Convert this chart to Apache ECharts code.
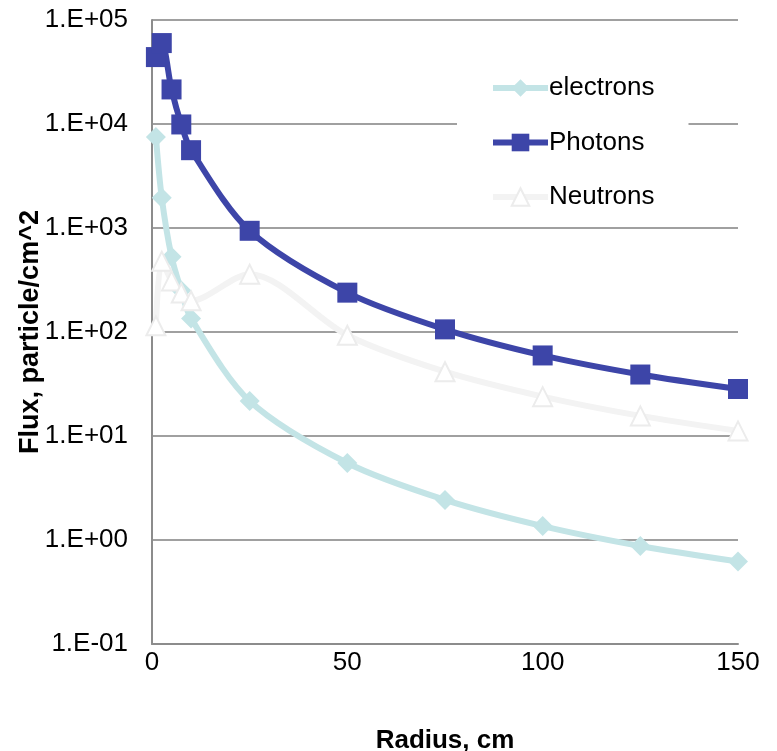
<!DOCTYPE html>
<html>
<head>
<meta charset="utf-8">
<script src="https://cdn.jsdelivr.net/npm/echarts@6/dist/echarts.min.js"></script>
<style>
html,body{margin:0;padding:0;background:#fff;}
#main{width:777px;height:751px;}
</style>
</head>
<body>
<div id="main"></div>
<script>
// 半径 (cm)
var radius=[1,2.5,5,7.5,10,25,50,75,100,125,150];
// 各粒子通量
var electrons=[7500,1950,530,250,135,21.7,5.5,2.43,1.36,0.875,0.62];
var photons=[44000,60000,21500,9900,5600,940,239,106,59.5,39,28.3];
var neutrons=[115,480,310,237,200,360,93,41.5,23.9,15.6,11.2];
var seriesNames=["electrons","Photons","Neutrons"];

function pairs(ys){
    return radius.map(function(x,i){return [x,ys[i]];});
}
// 1.E+05 这种格式
function expLabel(v){
    var e=Math.round(Math.log(v)/Math.LN10);
    var s=Math.abs(e)<10?"0"+Math.abs(e):""+Math.abs(e);
    return "1.E"+(e<0?"-":"+")+s;
}

var myChart=echarts.init(document.getElementById('main'));
var font="'Liberation Sans', Arial, sans-serif";
var option={
    animation:false,
    backgroundColor:"#fff",
    grid:{left:152,right:39,top:20,bottom:107,outerBoundsMode:"none",containLabel:false},
    legend:{
        orient:"vertical",
        left:457,
        top:67,
        padding:[8,34,8,33],
        backgroundColor:"#fff",
        itemWidth:55,
        itemHeight:22,
        itemGap:28.5,
        data:seriesNames,
        lineStyle:{width:6},
        textStyle:{fontFamily:font,fontSize:26,color:"#000",padding:[0,0,0,-4]}
    },
    xAxis:{
        type:"value",
        min:0,max:150,interval:50,
        name:"Radius, cm",
        nameLocation:"middle",
        nameGap:84,
        nameMoveOverlap:false,
        nameTextStyle:{fontFamily:font,fontSize:26,fontWeight:"bold",color:"#000"},
        axisLine:{lineStyle:{color:"#8c8c8c",width:2}},
        axisTick:{show:false},
        axisLabel:{fontFamily:font,fontSize:26,color:"#000",margin:6},
        splitLine:{show:false}
    },
    yAxis:{
        type:"log",
        logBase:10,
        min:0.1,max:100000,
        name:"Flux, particle/cm^2",
        nameLocation:"middle",
        nameGap:108,
        nameMoveOverlap:false,
        nameTextStyle:{fontFamily:font,fontSize:27,fontWeight:"bold",color:"#000"},
        axisLine:{show:true,lineStyle:{color:"#8c8c8c",width:2}},
        axisTick:{show:false},
        axisLabel:{fontFamily:font,fontSize:26,color:"#000",margin:24,formatter:expLabel},
        splitLine:{show:true,lineStyle:{color:"#a0a0a0",width:2}}
    },
    series:[{
        name:"electrons",
        type:"line",
        smooth:0.3,
        data:pairs(electrons),
        symbol:"diamond",
        symbolSize:20,
        lineStyle:{color:"#c3e4e6",width:6},
        itemStyle:{color:"#c3e4e6"}
    },{
        name:"Photons",
        type:"line",
        smooth:0.3,
        data:pairs(photons),
        symbol:"rect",
        symbolSize:20,
        lineStyle:{color:"#3d45a8",width:6},
        itemStyle:{color:"#3d45a8"}
    },{
        name:"Neutrons",
        type:"line",
        smooth:0.3,
        data:pairs(neutrons),
        symbol:"triangle",
        symbolSize:19,
        lineStyle:{color:"#f3f3f3",width:6},
        itemStyle:{color:"#ffffff",borderColor:"#ececec",borderWidth:2}
    }]
};
myChart.setOption(option);
</script>
</body>
</html>
